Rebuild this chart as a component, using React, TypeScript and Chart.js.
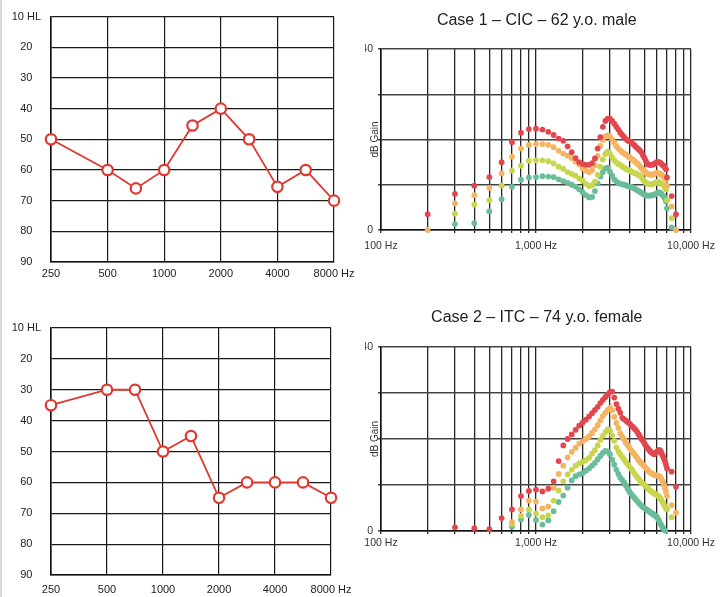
import React, { useEffect, useRef } from 'react';
import { Chart, registerables } from 'chart.js';

Chart.register(...registerables);

const FONT = "'Liberation Sans', Arial, Helvetica, sans-serif";

// ---------- Audiograms (left) ----------
const audioFreqLabels = ['250', '', '500', '750', '1000', '1500', '2000', '3000', '4000', '6000', '8000'];
const hlTicks = [10, 20, 30, 40, 50, 60, 70, 80, 90];
const case1HL = [50, null, 60, 66, 60, 45.5, 40, 50, 65.5, 60, 70];
const case2HL = [35, null, 30, 30, 50, 45, 65, 60, 60, 60, 65];

// ---------- Gain curves (right) ----------
const gainFreqs = [
  200, 300, 400, 500, 600, 700, 800, 900, 1000, 1100,
  1200, 1300, 1400, 1500, 1600, 1700, 1800, 1900, 2000, 2100,
  2200, 2300, 2400, 2500, 2600, 2700, 2800, 2900, 3000, 3100,
  3200, 3300, 3400, 3500, 3600, 3700, 3800, 3900, 4000, 4100,
  4200, 4300, 4400, 4500, 4600, 4700, 4800, 4900, 5000, 5100,
  5200, 5300, 5400, 5500, 5600, 5700, 5800, 5900, 6000, 6100,
  6200, 6300, 6400, 6500, 6600, 6700, 6800, 6900, 7000,
  7500, 8000,
];
const gainGridFreqs = [100, 200, 300, 400, 500, 600, 700, 800, 900, 1000, 2000, 3000, 4000, 5000, 6000, 7000, 8000, 9000, 10000];
const gainLabelFreqs = [100, 1000, 10000];
const gainLabelTexts = ['100 Hz', '1,000 Hz', '10,000 Hz'];
const gainTicks = [0, 10, 20, 30, 40];
const gainTickShown = [0, 40];

const case1Red = [
  3.5, 8.0, 9.8, 11.7, 15.0, 19.4, 21.5, 22.3, 22.4, 22.2,
  21.7, 21.0, 20.2, 19.7, 18.5, 17.2, 15.9, 15.0, 14.6, 14.4,
  14.4, 14.8, 15.8, 18.0, 20.5, 22.8, 24.1, 24.6, 24.6, 24.1,
  23.5, 22.8, 22.2, 21.5, 21.0, 20.6, 20.1, 19.8, 19.6, 19.4,
  19.1, 18.8, 18.4, 18.1, 17.8, 17.5, 17.1, 16.5, 16.0, 15.3,
  14.8, 14.5, 14.4, 14.4, 14.4, 14.5, 14.6, 14.8, 15.0, 15.0,
  15.0, 14.9, 14.7, 14.5, 14.3, 14.1, 13.8, 13.4, 11.6,
  7.5, 3.5,
];
const case1Orange = [
  0, 5.9, 7.7, 9.3, 12.5, 16.2, 18.0, 18.8, 19.0, 19.0,
  18.8, 18.3, 17.5, 16.9, 16.4, 15.9, 15.1, 14.5, 13.6, 13.1,
  12.8, 13.2, 14.3, 16.4, 18.6, 19.9, 20.7, 20.9, 20.7, 20.0,
  19.3, 18.5, 18.0, 17.6, 17.2, 16.9, 16.7, 16.4, 16.1, 15.8,
  15.6, 15.3, 15.0, 14.7, 14.4, 14.0, 13.6, 13.3, 13.0, 12.7,
  12.5, 12.4, 12.3, 12.2, 12.2, 12.3, 12.4, 12.5, 12.6, 12.6,
  12.5, 12.4, 12.3, 12.1, 11.9, 11.7, 11.5, 11.2, 9.8,
  5.2, 0,
];
const case1Yellow = [
  null, 3.6, 5.6, 6.6, 9.8, 13.1, 14.2, 15.3, 15.4, 15.4,
  15.2, 14.7, 14.0, 13.5, 12.8, 12.4, 12.0, 11.4, 10.9, 10.2,
  9.7, 9.9, 10.7, 12.2, 14.0, 15.6, 16.8, 17.3, 16.9, 16.1,
  15.4, 14.9, 14.6, 14.4, 14.1, 13.8, 13.5, 13.3, 13.2, 13.0,
  12.8, 12.6, 12.5, 12.3, 12.1, 12.0, 11.6, 11.2, 10.8, 10.5,
  10.3, 10.2, 10.1, 10.1, 10.1, 10.2, 10.3, 10.4, 10.6, 10.7,
  10.6, 10.5, 10.3, 10.2, 10.0, 9.7, 9.4, 9.0, 6.6,
  2.6, null,
];
const case1Teal = [
  null, 1.3, 1.5, 4.1, 6.8, 9.5, 11.1, 11.6, 11.7, 11.9,
  11.8, 11.7, 11.2, 10.8, 10.4, 10.0, 9.6, 9.0, 8.3, 7.7,
  7.2, 7.3, 8.6, 10.3, 11.8, 12.8, 13.6, 13.8, 12.9, 12.0,
  11.2, 10.7, 10.4, 10.2, 10.1, 10.0, 9.9, 9.7, 9.6, 9.5,
  9.4, 9.2, 9.0, 8.8, 8.6, 8.4, 8.2, 8.0, 7.8, 7.7,
  7.6, 7.6, 7.6, 7.6, 7.7, 7.7, 7.8, 8.0, 8.1, 8.2,
  8.3, 8.3, 8.1, 7.8, 7.6, 7.3, 6.9, 6.3, 4.8,
  0.6, null,
];

const case2Red = [
  null, 0.8, 0.6, 0.4, 2.8, 4.7, 7.6, 8.7, 9.0, 8.6,
  9.2, 10.8, 15.2, 18.6, 20.0, 21.0, 22.0, 22.9, 23.6, 24.2,
  24.9, 25.6, 26.3, 27.0, 27.8, 28.5, 29.1, 29.7, 30.2, 30.3,
  29.0, 27.6, 26.6, 25.7, 24.6, 24.3, 24.0, 23.7, 23.4, 23.0,
  22.7, 22.3, 22.0, 21.5, 21.0, 20.5, 20.0, 19.6, 19.1, 18.6,
  18.2, 17.9, 17.5, 17.2, 17.0, 16.8, 16.7, 16.9, 17.2, 17.4,
  17.6, 17.6, 17.3, 16.7, 16.2, 15.7, 15.1, 14.4, 13.6,
  12.9, 9.6,
];
const case2Orange = [
  null, null, null, null, null, 2.0, 4.7, 6.6, 6.4, 4.9,
  5.3, 9.4, 12.4, 14.2, 16.0, 17.2, 18.1, 19.0, 19.5, 20.0,
  20.6, 21.3, 22.1, 23.0, 24.0, 25.0, 25.7, 26.3, 26.8, 26.3,
  24.8, 23.5, 22.4, 21.2, 20.5, 19.9, 19.2, 18.7, 18.1, 17.6,
  17.2, 16.8, 16.3, 15.9, 15.4, 15.0, 14.7, 14.4, 14.1, 13.7,
  13.4, 13.1, 12.8, 12.6, 12.5, 12.3, 12.2, 12.1, 12.1, 12.0,
  11.9, 11.8, 11.5, 11.0, 10.6, 10.0, 9.3, 8.5, 7.6,
  5.6, 4.0,
];
const case2Yellow = [
  null, null, null, null, null, 1.5, 3.3, 4.7, 3.8, 3.0,
  3.4, 6.6, 8.8, 10.8, 12.3, 13.3, 14.2, 14.7, 15.0, 15.4,
  15.9, 16.8, 17.6, 18.6, 19.8, 20.7, 21.5, 22.1, 21.8, 20.8,
  19.6, 18.2, 17.3, 16.7, 16.1, 15.6, 15.0, 14.5, 14.0, 13.6,
  13.1, 12.6, 12.1, 11.7, 11.3, 10.9, 10.5, 10.3, 10.1, 9.8,
  9.5, 9.2, 8.9, 8.7, 8.5, 8.3, 8.2, 8.0, 7.9, 7.7,
  7.5, 7.3, 6.9, 6.5, 6.1, 5.7, 5.3, 5.0, 4.7,
  3.0, null,
];
const case2Teal = [
  null, null, null, null, null, 0.9, 2.5, 3.5, 2.4, 1.4,
  2.3, 4.3, 6.3, 7.7, 9.4, 11.0, 11.9, 12.3, 12.6, 13.1,
  13.6, 14.2, 14.8, 15.6, 16.3, 17.0, 17.4, 17.3, 16.7, 15.5,
  14.4, 13.3, 12.4, 11.6, 11.1, 10.6, 9.9, 9.2, 8.6, 8.1,
  7.7, 7.3, 6.9, 6.5, 6.1, 5.8, 5.5, 5.2, 5.0, 4.8,
  4.6, 4.4, 4.2, 4.0, 3.8, 3.7, 3.5, 3.3, 3.1, 2.7,
  2.3, 1.8, 1.4, 1.0, 0.6, 0.3, 0.1, null, null,
  null, null,
];

const case1Title = 'Case 1 \u2013 CIC \u2013 62 y.o. male';
const case2Title = 'Case 2 \u2013 ITC \u2013 74 y.o. female';

const AUDIO_RED = '#e0382f';
const SERIES_COLORS = ['#e2474f', '#f5b462', '#c8d64e', '#69bd98'];
const TEXT = '#222';

const panelTitle = {
  id: 'panelTitle',
  afterDraw(chart: any, _args: any, opts: any) {
    if (!opts || !opts.text) return;
    const { ctx, chartArea } = chart;
    ctx.save();
    ctx.font = `16px ${FONT}`;
    ctx.fillStyle = TEXT;
    ctx.textAlign = 'center';
    ctx.textBaseline = 'middle';
    ctx.fillText(opts.text, (chartArea.left + chartArea.right) / 2 + (opts.dx || 0), opts.y);
    ctx.restore();
  },
};

function audiogramConfig(values: (number | null)[], p: { top: number; xh: number; xpad: number }) {
  const last = audioFreqLabels.length - 1;
  return {
    type: 'line',
    data: {
      labels: audioFreqLabels,
      datasets: [
        {
          data: values,
          borderColor: AUDIO_RED,
          borderWidth: 1.8,
          pointRadius: 5.2,
          pointBorderWidth: 2.2,
          pointBackgroundColor: '#ffffff',
          pointBorderColor: AUDIO_RED,
          spanGaps: true,
          tension: 0,
          clip: false,
        },
      ],
    },
    options: {
      responsive: false,
      animation: false,
      events: [],
      layout: { padding: { left: 0, right: 22, top: p.top, bottom: 0 } },
      plugins: { legend: { display: false }, tooltip: { enabled: false }, title: { display: false } },
      scales: {
        x: {
          type: 'category',
          offset: false,
          grid: {
            offset: false,
            drawTicks: false,
            lineWidth: 1.2,
            color: (c: any) => (c.index % 2 === 0 ? '#1a1a1a' : 'rgba(0,0,0,0)'),
          },
          border: { color: '#111', width: 1.6 },
          ticks: {
            autoSkip: false,
            maxRotation: 0,
            padding: p.xpad,
            color: TEXT,
            font: { family: FONT, size: 11 },
            callback: (_v: any, i: number) =>
              i % 2 === 0 ? (i === last ? audioFreqLabels[i] + ' Hz' : audioFreqLabels[i]) : '',
          },
          afterFit: (s: any) => {
            s.height = p.xh;
          },
        },
        y: {
          type: 'linear',
          reverse: true,
          min: 10,
          max: 90,
          afterBuildTicks: (s: any) => {
            s.ticks = hlTicks.map((v) => ({ value: v }));
          },
          grid: { drawTicks: false, lineWidth: 1.2, color: '#1a1a1a' },
          border: { color: '#111', width: 1.6 },
          ticks: {
            crossAlign: 'center',
            padding: 10,
            color: TEXT,
            font: { family: FONT, size: 11 },
            callback: (v: any) => (v === hlTicks[0] ? `${v} HL` : String(v)),
          },
          afterFit: (s: any) => {
            s.width = 51;
          },
        },
      },
    },
  };
}

function gainConfig(
  title: string,
  series: (number | null)[][],
  p: { top: number; titleY: number; xh: number; xpad: number }
) {
  return {
    type: 'scatter',
    data: {
      datasets: series.map((vals, k) => ({
        data: gainFreqs
          .map((f, i) => (vals[i] == null ? null : { x: f, y: vals[i] }))
          .filter((d) => d !== null),
        backgroundColor: SERIES_COLORS[k],
        borderWidth: 0,
        pointRadius: 2.9,
        clip: false,
      })),
    },
    plugins: [panelTitle],
    options: {
      responsive: false,
      animation: false,
      events: [],
      layout: { padding: { left: 0, right: 31, top: p.top, bottom: 0 } },
      plugins: {
        legend: { display: false },
        tooltip: { enabled: false },
        title: { display: false },
        panelTitle: { text: title, y: p.titleY, dx: 0.8 },
      },
      scales: {
        x: {
          type: 'logarithmic',
          min: 100,
          max: 10000,
          afterBuildTicks: (s: any) => {
            s.ticks = gainGridFreqs.map((v) => ({ value: v }));
          },
          grid: { lineWidth: 1.3, color: '#262626', tickLength: 3 },
          border: { color: '#111', width: 1.6 },
          ticks: {
            autoSkip: false,
            maxRotation: 0,
            padding: p.xpad,
            color: '#333',
            font: { family: FONT, size: 10.5 },
            callback: (v: any) => {
              const i = gainLabelFreqs.indexOf(Number(v));
              return i >= 0 ? gainLabelTexts[i] : '';
            },
          },
          afterFit: (s: any) => {
            s.height = p.xh;
          },
        },
        y: {
          type: 'linear',
          min: 0,
          max: 40,
          afterBuildTicks: (s: any) => {
            s.ticks = gainTicks.map((v) => ({ value: v }));
          },
          grid: { lineWidth: 1.5, color: '#444', tickLength: 3 },
          border: { color: '#111', width: 1.6 },
          ticks: {
            padding: 5,
            color: '#333',
            font: { family: FONT, size: 10.5 },
            callback: (v: any) => (gainTickShown.includes(Number(v)) ? String(v) : ''),
          },
          title: {
            display: true,
            text: 'dB Gain',
            color: '#333',
            font: { family: FONT, size: 10 },
            padding: { top: 17, bottom: 0 },
          },
          afterFit: (s: any) => {
            s.width = 29;
          },
        },
      },
    },
  };
}

function ChartCanvas({
  config,
  width,
  height,
  boxStyle,
  canvasLeft,
}: {
  config: any;
  width: number;
  height: number;
  boxStyle: React.CSSProperties;
  canvasLeft: number;
}) {
  const ref = useRef<HTMLCanvasElement | null>(null);
  useEffect(() => {
    if (!ref.current) return;
    const chart = new Chart(ref.current, config);
    return () => chart.destroy();
  }, []);
  return (
    <div style={{ position: 'absolute', overflow: 'hidden', ...boxStyle }}>
      <canvas
        ref={ref}
        width={width}
        height={height}
        style={{ position: 'absolute', left: canvasLeft, top: 0, width, height }}
      />
    </div>
  );
}

export default function App() {
  const c1Audio = audiogramConfig(case1HL, { top: 14, xh: 28, xpad: 5.5 });
  const c2Audio = audiogramConfig(case2HL, { top: 28, xh: 22, xpad: 8.5 });
  const c1Gain = gainConfig(case1Title, [case1Red, case1Orange, case1Yellow, case1Teal], {
    top: 49,
    titleY: 21,
    xh: 60,
    xpad: 6.5,
  });
  const c2Gain = gainConfig(case2Title, [case2Red, case2Orange, case2Yellow, case2Teal], {
    top: 47,
    titleY: 17.5,
    xh: 66,
    xpad: 2.5,
  });
  return (
    <div style={{ position: 'absolute', left: 0, top: 0, width: 722, height: 597, background: '#fff', fontFamily: FONT }}>
      <div style={{ position: 'absolute', left: 0, top: 0, width: 2, height: 597, background: '#dadada' }} />
      <ChartCanvas config={c1Audio} width={360} height={290} canvasLeft={0} boxStyle={{ left: 0, top: 0, width: 360, height: 290 }} />
      <ChartCanvas config={c2Audio} width={360} height={297} canvasLeft={0} boxStyle={{ left: 0, top: 300, width: 360, height: 297 }} />
      <ChartCanvas config={c1Gain} width={370} height={290} canvasLeft={-13} boxStyle={{ left: 365, top: 0, width: 357, height: 290 }} />
      <ChartCanvas config={c2Gain} width={370} height={297} canvasLeft={-13} boxStyle={{ left: 365, top: 300, width: 357, height: 297 }} />
    </div>
  );
}
